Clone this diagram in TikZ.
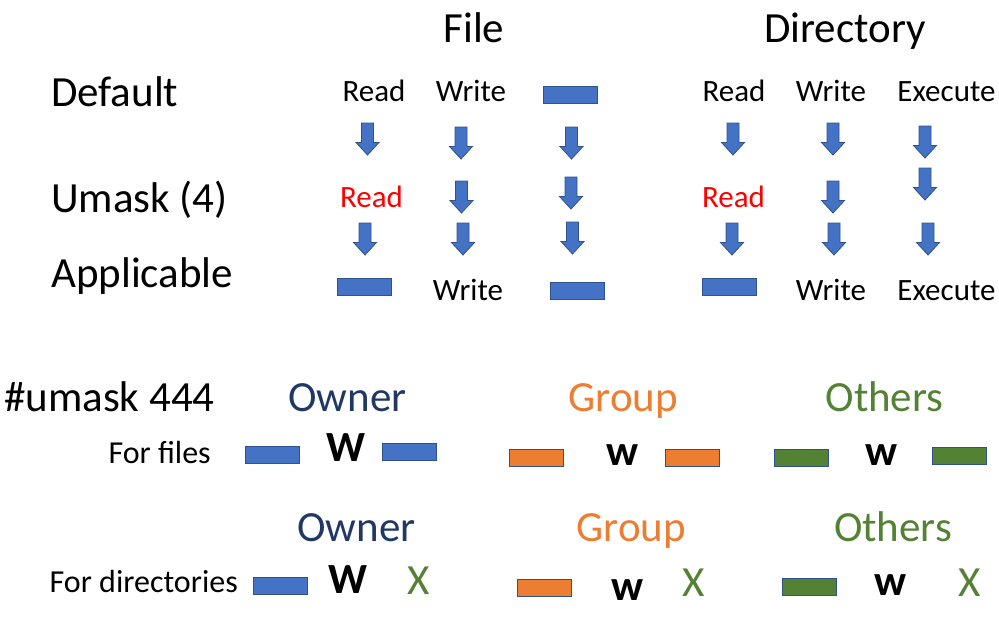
\documentclass[tikz,border=0pt]{standalone}
\usepackage{fontspec}
\setmainfont{Carlito}
\usepackage{tikz}
\usetikzlibrary{arrows.meta}
\definecolor{barblue}{HTML}{4472C4}
\definecolor{barline}{HTML}{2F528F}
\definecolor{grporange}{HTML}{ED7D31}
\definecolor{othgreen}{HTML}{548235}
\definecolor{ownnavy}{HTML}{203864}
\definecolor{maskred}{HTML}{FF0000}

\begin{document}
\begin{tikzpicture}[
  x=1pt, y=-1pt,
  head/.style={font=\fontsize{43}{50}\selectfont, anchor=base, inner sep=0pt},
  perm/.style={font=\fontsize{31}{37}\selectfont, anchor=base, inner sep=0pt},
  forlbl/.style={font=\fontsize{32}{38}\selectfont, anchor=base east, inner sep=0pt},
  bigw/.style={font=\fontsize{43}{50}\selectfont\bfseries, anchor=base, inner sep=0pt},
  bigx/.style={font=\fontsize{43}{50}\selectfont, text=othgreen, anchor=base, inner sep=0pt},
  bar/.style={rectangle, draw=barline, line width=0.8pt, fill=barblue,
              minimum width=54pt, minimum height=17pt, inner sep=0pt},
  grpbar/.style={bar, fill=grporange},
  othbar/.style={bar, fill=othgreen},
  downarr/.pic={
    \path[draw=barline, fill=barblue, line width=0.8pt]
      (-6,0) -- (6,0) -- (6,19.5) -- (11.5,19.5) -- (0,32)
      -- (-11.5,19.5) -- (-6,19.5) -- cycle;
  },
]
  \useasboundingbox (0,0) rectangle (999,635);

  % column titles and row labels
  \node[head] (file) at (474,42) {File};
  \node[head] (dir) at (845,42) {Directory};
  \node[head, anchor=base west] (default) at (51,106) {Default};
  \node[head, anchor=base west] (umask) at (51,212) {Umask (4)};
  \node[head, anchor=base west] (applic) at (51,287) {Applicable};

  % file: default row
  \node[perm] (fread) at (374,101) {Read};
  \node[perm] (fwrite) at (471,101) {Write};
  \node[bar] (fexec) at (570.5,94.5) {};
  % directory: default row
  \node[perm] (dread) at (734,101) {Read};
  \node[perm] (dwrite) at (831,101) {Write};
  \node[perm] (dexec) at (946.5,101) {Execute};

  \pic (fa1) at (367.5,123) {downarr};
  \pic (fa2) at (461,127) {downarr};
  \pic (fa3) at (571.5,127) {downarr};
  \pic (da1) at (733,123) {downarr};
  \pic (da2) at (833,123) {downarr};
  \pic (da3) at (925,126) {downarr};

  % umask row
  \node[perm, text=maskred] (fmask) at (371.5,207) {Read};
  \node[perm, text=maskred] (dmask) at (733.5,207) {Read};
  \pic (fb2) at (461.5,181) {downarr};
  \pic (fb3) at (571,177) {downarr};
  \pic (db2) at (833,181) {downarr};
  \pic (db3) at (925,168) {downarr};

  \pic (fc1) at (365,223) {downarr};
  \pic (fc2) at (463,223) {downarr};
  \pic (fc3) at (572.5,222) {downarr};
  \pic (dc1) at (732,223) {downarr};
  \pic (dc2) at (834,223) {downarr};
  \pic (dc3) at (928,223) {downarr};

  % applicable row
  \node[bar] (fappr) at (364.5,287) {};
  \node[perm] (fappw) at (468,300) {Write};
  \node[bar] (fappx) at (577,291) {};
  \node[bar] (dappr) at (729.5,287) {};
  \node[perm] (dappw) at (831,300) {Write};
  \node[perm] (dappx) at (946.5,300) {Execute};

  % umask 444, files
  \node[head, anchor=base west] (u444) at (4,411) {\#umask 444};
  \node[head, text=ownnavy] (own1) at (347.5,411) {Owner};
  \node[head, text=grporange] (grp1) at (623.5,411) {Group};
  \node[head, text=othgreen] (oth1) at (884.5,411) {Others};
  \node[forlbl] (forf) at (211,463) {For files};
  \node[bar] (o1r) at (272,454.5) {};
  \node[bigw] (o1w) at (346,461) {W};
  \node[bar] (o1x) at (409.5,451.5) {};
  \node[grpbar] (g1r) at (536.5,457.5) {};
  \node[bigw] (g1w) at (623,465) {w};
  \node[grpbar] (g1x) at (692.5,457.5) {};
  \node[othbar] (t1r) at (801.5,457.5) {};
  \node[bigw] (t1w) at (882,465) {w};
  \node[othbar] (t1x) at (959.5,455.5) {};

  % umask 444, directories
  \node[head, text=ownnavy] (own2) at (356.5,541) {Owner};
  \node[head, text=grporange] (grp2) at (631.5,541) {Group};
  \node[head, text=othgreen] (oth2) at (893,541) {Others};
  \node[forlbl] (ford) at (238,592) {For directories};
  \node[bar] (o2r) at (280,585.5) {};
  \node[bigw] (o2w) at (347.5,593) {W};
  \node[bigx] (o2x) at (418.5,594) {X};
  \node[grpbar] (g2r) at (544.5,587.5) {};
  \node[bigw] (g2w) at (628,600) {w};
  \node[bigx] (g2x) at (694,596) {X};
  \node[othbar] (t2r) at (809.5,587) {};
  \node[bigw] (t2w) at (891,595) {w};
  \node[bigx] (t2x) at (969.5,596) {X};
\end{tikzpicture}
\end{document}
